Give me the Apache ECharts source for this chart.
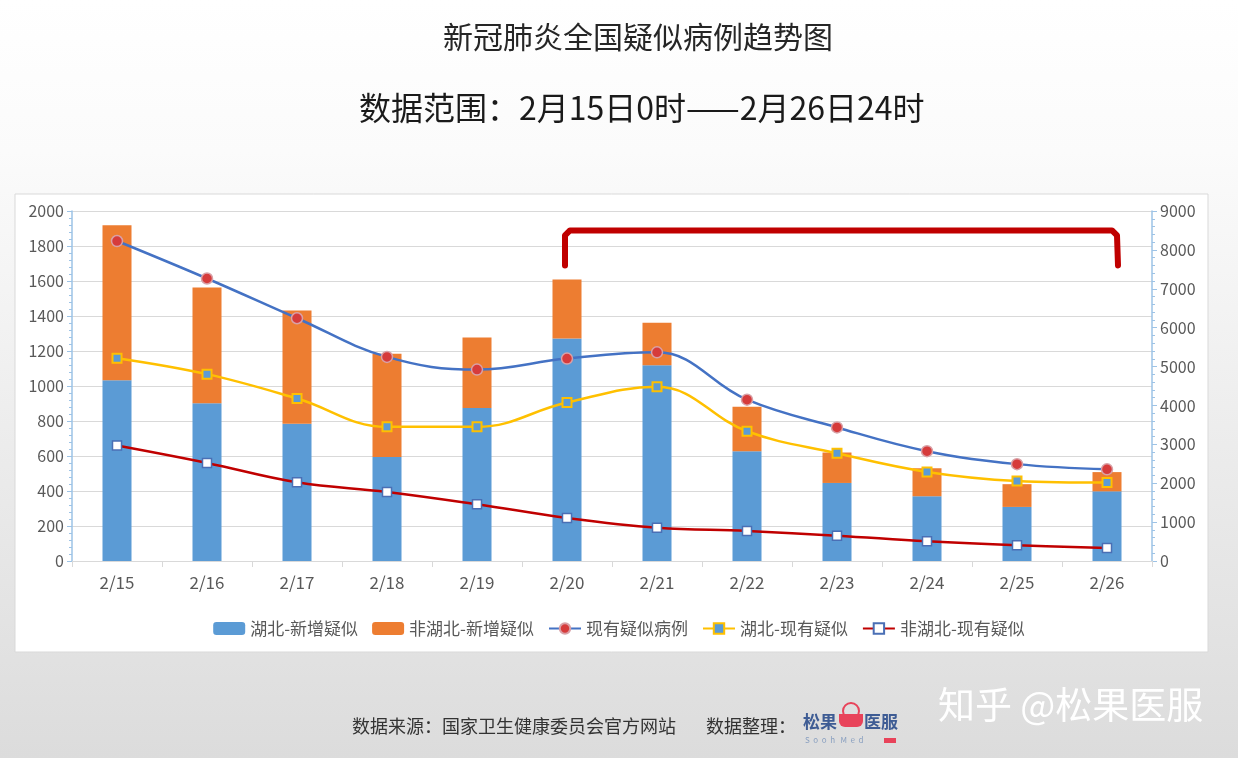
<!DOCTYPE html>
<html><head><meta charset="utf-8">
<script src="https://cdn.jsdelivr.net/npm/echarts@6/dist/echarts.min.js"></script>
<style>html,body{margin:0;padding:0;}#c{width:1238px;height:758px;}</style>
</head><body><div id="c"></div>
<script>
const categories = ['2/15','2/16','2/17','2/18','2/19','2/20','2/21','2/22','2/23','2/24','2/25','2/26'];
const hubeiNew    = [1033, 902, 784, 595, 875, 1272, 1119, 627, 446, 370, 309, 398];
const otherNew    = [885, 661, 648, 590, 402, 336, 242, 255, 174, 160, 130, 110];
const totalExist  = [8228, 7264, 6242, 5248, 4922, 5206, 5365, 4148, 3434, 2824, 2491, 2358];
const hubeiExist  = [5216, 4805, 4178, 3449, 3449, 4075, 4479, 3337, 2771, 2291, 2059, 2016];
const otherExist  = [2969, 2522, 2025, 1776, 1459, 1107, 858, 772, 652, 506, 403, 335];
const leftTicks = [0, 2000, 200];
const rightTicks = [0, 9000, 1000];
const bracketRange = ['2/20', '2/26', 7600, 8500];

const FONT = '"Noto Sans CJK SC", "Microsoft YaHei", sans-serif';
const chart = echarts.init(document.getElementById('c'));
const axisGray = '#595959';
const baseGraphic = [
    {type:'rect', z:-10, shape:{x:15, y:194, width:1193, height:458},
     style:{fill:'#ffffff', stroke:'#d9d9d9', lineWidth:1}},
    {type:'text', left:443, top:22, style:{text:'新冠肺炎全国疑似病例趋势图', fill:'#262626', font:'30px ' + FONT}},
    {type:'text', left:359, top:92, style:{text:'数据范围：2月15日0时——2月26日24时', fill:'#1a1a1a', font:'32px ' + FONT}},
    {type:'text', left:352, top:717, style:{text:'数据来源：国家卫生健康委员会官方网站', fill:'#333333', font:'18px ' + FONT}},
    {type:'text', left:706, top:717, style:{text:'数据整理：', fill:'#333333', font:'18px ' + FONT}},
    {type:'text', left:803, top:713, style:{text:'松果', fill:'#3e5c94', font:'bold 17px ' + FONT}},
    {type:'text', left:864, top:713, style:{text:'医服', fill:'#3e5c94', font:'bold 17px ' + FONT}},
    {type:'circle', shape:{cx:851, cy:711, r:8}, style:{fill:'none', stroke:'#e8435a', lineWidth:2}},
    {type:'rect', shape:{x:839, y:714, width:24, height:13, r:[0,0,6,6]}, style:{fill:'#e8435a'}},
    {type:'text', left:805, top:736, style:{text:'S  o  o  h   M  e  d', fill:'#8aa0c0', font:'8px ' + FONT}},
    {type:'rect', shape:{x:884, y:738, width:12, height:5}, style:{fill:'#e8435a'}},
    {type:'text', left:938, top:686, style:{text:'知乎 @松果医服', fill:'#ffffff', font:'37px ' + FONT,
      shadowColor:'rgba(0,0,0,0.45)', shadowBlur:2, shadowOffsetX:2, shadowOffsetY:2}}
];
const option = {
  backgroundColor: {type:'linear', x:0, y:0, x2:0, y2:1, colorStops:[
    {offset:0, color:'#ffffff'}, {offset:0.2, color:'#fbfbfb'}, {offset:1, color:'#dcdcdc'}]},
  textStyle: {fontFamily: FONT},
  graphic: baseGraphic,
  legend: {
    top: 615, left: 'center', itemGap: 14, itemWidth: 32, itemHeight: 13,
    textStyle: {color: axisGray, fontSize: 17, fontFamily: FONT},
    data: ['湖北-新增疑似','非湖北-新增疑似','现有疑似病例','湖北-现有疑似','非湖北-现有疑似']
  },
  grid: {left: 72, right: 86, top: 211, bottom: 197},
  xAxis: {
    type: 'category', data: categories, boundaryGap: true,
    axisLine: {lineStyle: {color: '#d9d9d9', width: 1}},
    axisTick: {show: true, length: 6, lineStyle: {color: '#d9d9d9'}},
    axisLabel: {color: axisGray, fontSize: 17, margin: 13, fontFamily: FONT}
  },
  yAxis: [
    {type:'value', min: leftTicks[0], max: leftTicks[1], interval: leftTicks[2],
     axisLine: {show:true, lineStyle:{color:'#9dc3e6', width:1.5}},
     axisTick: {show:true, length:5, lineStyle:{color:'#9dc3e6'}},
     minorTick: {show:true, splitNumber:5, length:3, lineStyle:{color:'#9dc3e6'}},
     splitLine: {lineStyle:{color:'#d9d9d9', width:1}},
     axisLabel: {color: axisGray, fontSize: 16, margin: 8, fontFamily: FONT, formatter: v => String(v)}},
    {type:'value', min: rightTicks[0], max: rightTicks[1], interval: rightTicks[2],
     axisLine: {show:true, lineStyle:{color:'#9dc3e6', width:1.5}},
     axisTick: {show:true, length:5, lineStyle:{color:'#9dc3e6'}},
     minorTick: {show:true, splitNumber:5, length:3, lineStyle:{color:'#9dc3e6'}},
     splitLine: {show:false},
     axisLabel: {color: axisGray, fontSize: 16, margin: 8, fontFamily: FONT, formatter: v => String(v)}}
  ],
  series: [
    {name:'湖北-新增疑似', type:'bar', stack:'new', data: hubeiNew, barWidth: 29,
     itemStyle:{color:'#5b9bd5'}},
    {name:'非湖北-新增疑似', type:'bar', stack:'new', data: otherNew, barWidth: 29,
     itemStyle:{color:'#ed7d31'}},
    {name:'现有疑似病例', type:'line', yAxisIndex:1, data: totalExist, smooth: 0.4,
     symbol:'circle', symbolSize: 11,
     lineStyle:{color:'#4472c4', width:2.5},
     itemStyle:{color:'#d63b3b', borderColor:'#d9a0a6', borderWidth:1.5}},
    {name:'湖北-现有疑似', type:'line', yAxisIndex:1, data: hubeiExist, smooth: 0.4,
     symbol:'rect', symbolSize: 9,
     lineStyle:{color:'#ffc000', width:2.5},
     itemStyle:{color:'#5b9bd5', borderColor:'#ffc000', borderWidth:2}},
    {name:'非湖北-现有疑似', type:'line', yAxisIndex:1, data: otherExist, smooth: 0.4,
     symbol:'rect', symbolSize: 9,
     lineStyle:{color:'#c00000', width:2.5},
     itemStyle:{color:'#ffffff', borderColor:'#4a6fb5', borderWidth:1.5}}
  ]
};
chart.setOption(option);
// bracket annotation, placed from axis values
const pL = chart.convertToPixel({xAxisIndex:0, yAxisIndex:1}, [bracketRange[0], bracketRange[2]]);
const pR = chart.convertToPixel({xAxisIndex:0, yAxisIndex:1}, [bracketRange[1], bracketRange[2]]);
const yTop = chart.convertToPixel({yAxisIndex:1}, bracketRange[3]);
const xL = pL[0] - 2, xR = pR[0] + 10, yB = pL[1];
chart.setOption({graphic: baseGraphic.concat([{
  type:'polyline', z:100,
  shape:{points:[[xL, yB], [xL, yTop + 5], [xL + 5, yTop], [xR - 5, yTop], [xR, yTop + 5], [xR + 1, yB]]},
  style:{fill:'none', stroke:'#c00000', lineWidth:6, lineCap:'round', lineJoin:'round'}
}])});
</script>
</body></html>
